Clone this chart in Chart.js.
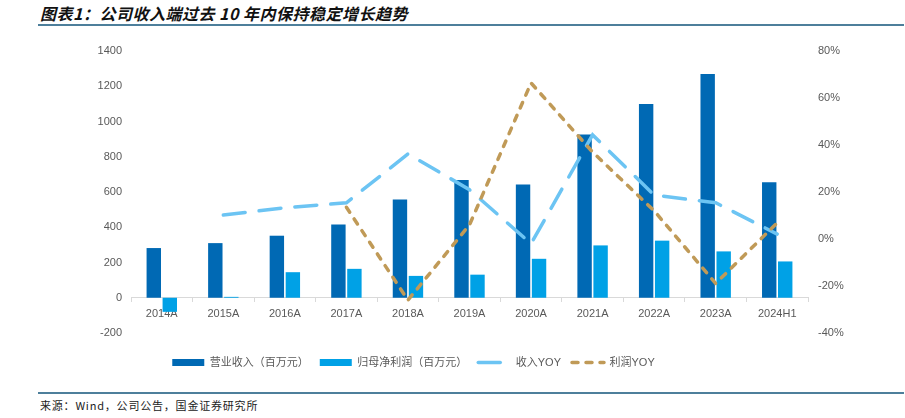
<!DOCTYPE html>
<html lang="zh">
<head>
<meta charset="UTF-8">
<title>图表1</title>
<script src="https://cdn.jsdelivr.net/npm/chart.js"></script>
<style>
  body { margin: 0; background: #fff; font-family: "Liberation Sans", "Noto Sans CJK SC", sans-serif; }
  #wrap { position: relative; width: 905px; height: 418px; }
  #title { position: absolute; left: 40px; top: 1px; font: italic bold 16px "Noto Sans CJK SC", sans-serif; letter-spacing: 0.5px; color: #111; }
  .rule { position: absolute; left: 38px; right: 1px; height: 2px; background: #4d7f9b; }
  #chartBox { position: absolute; left: 0; top: 30px; width: 905px; height: 360px; }
  #source { position: absolute; left: 40px; top: 397px; font: 11px "Noto Sans CJK SC", sans-serif; letter-spacing: 0.8px; color: #222; }
</style>
</head>
<body>
<div id="wrap">
  <div id="title">图表1：公司收入端过去 10 年内保持稳定增长趋势</div>
  <div class="rule" style="top:24px"></div>
  <div id="chartBox"><canvas id="c"></canvas></div>
  <div class="rule" style="top:392px"></div>
  <div id="source">来源：Wind，公司公告，国金证券研究所</div>
</div>
<script>
// 数据
var years = ['2014A', '2015A', '2016A', '2017A', '2018A', '2019A', '2020A', '2021A', '2022A', '2023A', '2024H1'];
var revenue = [282, 310, 352, 415, 558, 668, 642, 926, 1099, 1270, 655];      // 营业收入（百万元）
var netProfit = [-80, 5, 145, 164, 124, 131, 221, 297, 324, 263, 206];       // 归母净利润（百万元）
var revenueYoy = [null, 10.2, 13.3, 15.4, 36.2, 21, -2, 44.3, 18.7, 15.4, 2.1]; // 收入YOY %
var profitYoy = [null, null, null, 13.5, -26, 6, 66.4, 37, 12, -18.9, 6.9];    // 利润YOY %

var leftTicks = [-200, 0, 200, 400, 600, 800, 1000, 1200, 1400];
var rightTicks = [-40, -20, 0, 20, 40, 60, 80];

var grey = '#595959';
var font = { family: '"Liberation Sans", "Noto Sans CJK SC", sans-serif', size: 11 };

// move the legend left and a little lower, like the original
var legendShift = {
  id: 'legendShift',
  afterLayout: function (chart) {
    chart.legend.right -= 78;
    chart.legend.top += 13;
    chart.legend.bottom += 13;
  }
};

new Chart(document.getElementById('c'), {
  data: {
    labels: years,
    datasets: [
      { type: 'bar', label: '营业收入（百万元）', data: revenue, yAxisID: 'y',
        backgroundColor: '#0069b4', categoryPercentage: 0.52, barPercentage: 0.9, order: 2 },
      { type: 'bar', label: '归母净利润（百万元）', data: netProfit, yAxisID: 'y',
        backgroundColor: '#00a1e6', categoryPercentage: 0.52, barPercentage: 0.9, order: 3 },
      { type: 'line', label: '收入YOY', data: revenueYoy, yAxisID: 'y1',
        borderColor: '#6cc4f3', borderWidth: 3.5, borderDash: [22, 14], borderCapStyle: 'round',
        pointRadius: 0, tension: 0, order: 1 },
      { type: 'line', label: '利润YOY', data: profitYoy, yAxisID: 'y1',
        borderColor: '#c09a57', borderWidth: 3.5, borderDash: [6, 8], borderCapStyle: 'round',
        pointRadius: 0, tension: 0, order: 0 }
    ]
  },
  options: {
    responsive: true,
    maintainAspectRatio: false,
    animation: false,
    layout: { padding: { top: 21, bottom: 25 } },
    plugins: {
      tooltip: { enabled: false },
      legend: {
        position: 'bottom',
        labels: {
          usePointStyle: true,
          pointStyleWidth: 32,
          boxHeight: 7,
          padding: 11,
          color: grey,
          font: font,
          generateLabels: function (chart) {
            return chart.data.datasets.map(function (ds, i) {
              var isBar = ds.type === 'bar';
              return {
                text: ds.label,
                datasetIndex: i,
                fillStyle: isBar ? ds.backgroundColor : 'rgba(0,0,0,0)',
                strokeStyle: isBar ? ds.backgroundColor : ds.borderColor,
                lineWidth: isBar ? 0 : 3.5,
                lineDash: isBar ? [] : ds.borderDash,
                lineCap: isBar ? 'butt' : 'round',
                pointStyle: isBar ? 'rect' : 'line',
                fontColor: grey
              };
            });
          }
        }
      }
    },
    scales: {
      x: {
        position: { y: 0 },
        grid: { offset: true, drawOnChartArea: false, tickLength: 4, color: '#d9d9d9' },
        border: { color: '#d9d9d9', width: 1 },
        ticks: { color: grey, font: font, padding: 6 }
      },
      y: {
        position: 'left',
        min: -200, max: 1400,
        afterBuildTicks: function (s) { s.ticks = leftTicks.map(function (v) { return { value: v }; }); },
        afterFit: function (s) { s.width = 131; },
        grid: { display: false, drawTicks: false },
        border: { display: false },
        ticks: { color: grey, font: font, padding: 9, callback: function (v) { return String(v); } }
      },
      y1: {
        position: 'right',
        min: -40, max: 80,
        afterBuildTicks: function (s) { s.ticks = rightTicks.map(function (v) { return { value: v }; }); },
        afterFit: function (s) { s.width = 97; },
        grid: { display: false, drawTicks: false },
        border: { display: false },
        ticks: { color: grey, font: font, padding: 10, callback: function (v) { return v + '%'; } }
      }
    }
  },
  plugins: [legendShift]
});
</script>
</body>
</html>
